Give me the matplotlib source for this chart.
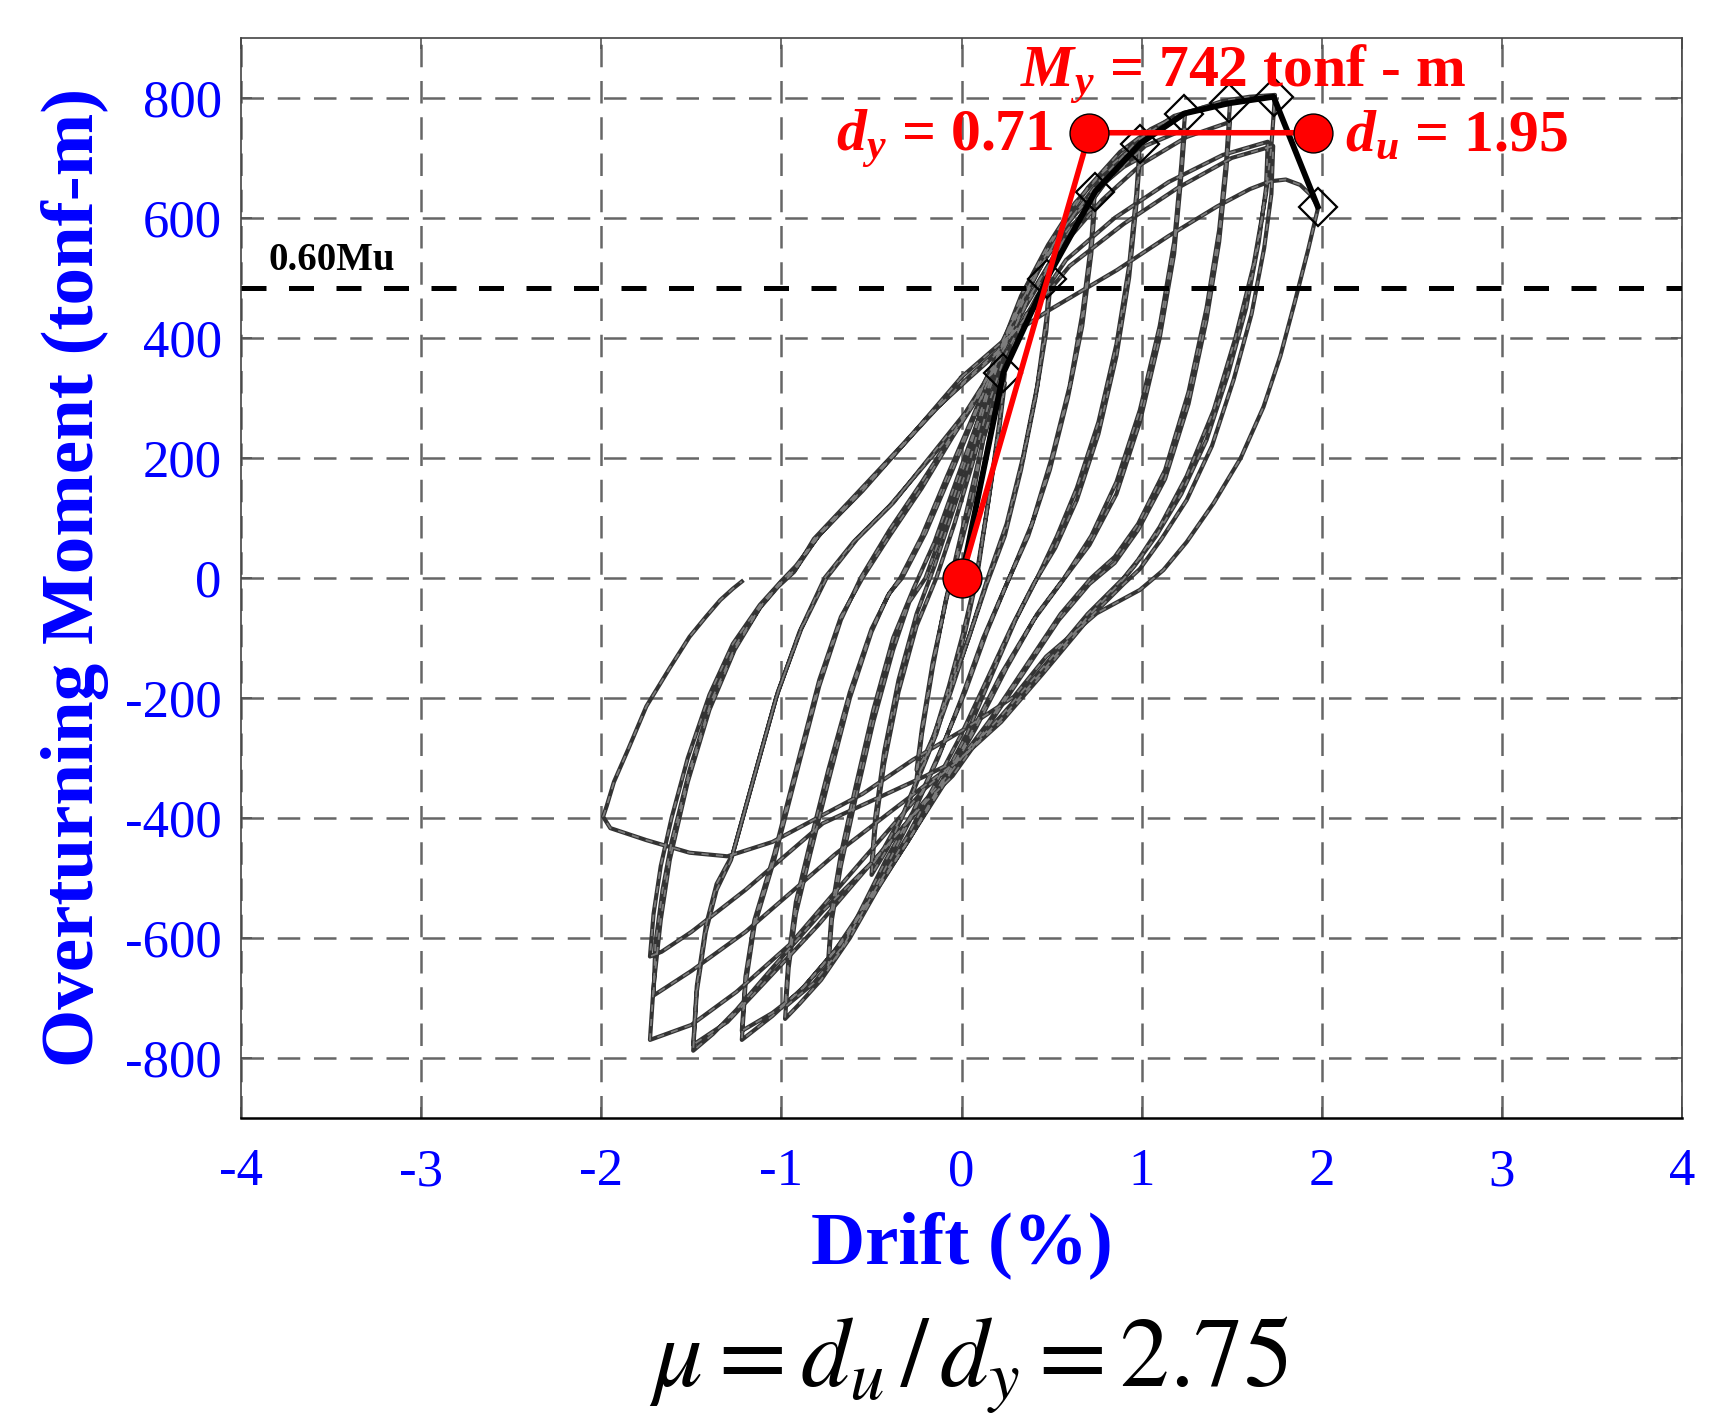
import matplotlib
matplotlib.use("Agg")
import matplotlib.pyplot as plt

# ---------------- data ----------------
x_ticks = [-4, -3, -2, -1, 0, 1, 2, 3, 4]
y_ticks = [-800, -600, -400, -200, 0, 200, 400, 600, 800]

loop_025 = [(0.00, 0), (0.08, 120), (0.16, 240), (0.24, 340), (0.21, 260), (0.15, 130), (0.085, 0),
            (0.02, -90), (-0.06, -180), (-0.14, -260), (-0.21, -310), (-0.25, -335), (-0.22, -260),
            (-0.16, -150), (-0.09, -40), (-0.02, 50), (0.05, 140), (0.12, 230), (0.19, 300), (0.24, 325),
            (0.21, 250), (0.15, 130), (0.08, 0), (0.01, -90), (-0.07, -180), (-0.15, -260), (-0.21, -300),
            (-0.25, -320), (-0.22, -250), (-0.16, -140), (-0.08, -30), (0.00, 60), (0.06, 130)]

loop_050 = [(0.06, 130), (0.12, 230), (0.22, 340), (0.33, 420), (0.42, 470), (0.49, 500),
            (0.47, 430), (0.42, 320), (0.34, 200), (0.25, 90), (0.145, 0), (0.05, -90), (-0.06, -190),
            (-0.18, -290), (-0.30, -380), (-0.41, -450), (-0.50, -495),
            (-0.48, -420), (-0.43, -310), (-0.35, -190), (-0.25, -80), (-0.14, 0), (-0.04, 90), (0.06, 190),
            (0.15, 290), (0.24, 370), (0.36, 440), (0.49, 480),
            (0.47, 410), (0.41, 300), (0.33, 180), (0.24, 70), (0.14, -10), (0.04, -100), (-0.08, -200),
            (-0.20, -300), (-0.32, -390), (-0.43, -450), (-0.50, -480),
            (-0.48, -400), (-0.43, -290), (-0.35, -170), (-0.25, -60), (-0.15, 20), (-0.05, 110), (0.05, 200)]

loop_075 = [(0.05, 200), (0.15, 310), (0.28, 420), (0.42, 510), (0.56, 580), (0.66, 620), (0.74, 645),
            (0.72, 560), (0.67, 440), (0.60, 320), (0.50, 200), (0.39, 90), (0.265, 0), (0.14, -90),
            (0.02, -190), (-0.12, -290), (-0.27, -390), (-0.42, -470), (-0.57, -560), (-0.67, -620),
            (-0.74, -650),
            (-0.72, -570), (-0.67, -480), (-0.59, -370), (-0.49, -240), (-0.38, -120), (-0.29, -40),
            (-0.20, 0), (-0.08, 100), (0.05, 220), (0.15, 320),
            (0.30, 440), (0.46, 530), (0.60, 585), (0.74, 620),
            (0.72, 540), (0.67, 420), (0.59, 300), (0.49, 180), (0.37, 70), (0.25, -10), (0.12, -100),
            (0.00, -200), (-0.13, -300), (-0.28, -400), (-0.45, -500), (-0.60, -580), (-0.74, -635),
            (-0.72, -550), (-0.67, -460), (-0.59, -350), (-0.49, -220), (-0.38, -100), (-0.27, -20),
            (-0.15, 60), (-0.02, 170), (0.10, 270)]

loop_100 = [(0.10, 270), (0.20, 370), (0.33, 470), (0.48, 555), (0.63, 625), (0.78, 675), (0.90, 705),
            (0.99, 725),
            (0.97, 640), (0.93, 520), (0.86, 390), (0.76, 260), (0.64, 150), (0.53, 70), (0.42, 0),
            (0.30, -70), (0.17, -160), (0.03, -260), (-0.12, -345), (-0.28, -430), (-0.45, -510),
            (-0.62, -600), (-0.78, -670), (-0.90, -710), (-0.98, -735),
            (-0.96, -650), (-0.92, -560), (-0.84, -460), (-0.74, -340), (-0.62, -200), (-0.50, -90),
            (-0.41, -30), (-0.34, 0), (-0.22, 70), (-0.08, 170), (0.05, 260), (0.15, 330),
            (0.30, 440), (0.45, 530), (0.60, 595), (0.76, 650), (0.90, 685), (0.99, 700),
            (0.97, 620), (0.93, 500), (0.86, 370), (0.76, 240), (0.64, 130), (0.52, 50), (0.40, -10),
            (0.28, -80), (0.14, -170), (0.00, -260), (-0.14, -340), (-0.30, -430), (-0.48, -520),
            (-0.65, -610), (-0.82, -675), (-0.98, -715),
            (-0.96, -630), (-0.92, -540), (-0.84, -440), (-0.74, -320), (-0.62, -190), (-0.50, -85),
            (-0.40, -25), (-0.33, 0), (-0.20, 75), (-0.05, 180), (0.08, 275)]

loop_125 = [(0.08, 275), (0.20, 370), (0.35, 480), (0.52, 570), (0.70, 650), (0.88, 710), (1.05, 748),
            (1.15, 763), (1.24, 772),
            (1.22, 690), (1.18, 560), (1.10, 420), (0.99, 280), (0.86, 160), (0.72, 70), (0.57, 0),
            (0.42, -60), (0.25, -150), (0.08, -250), (-0.10, -345), (-0.28, -430), (-0.47, -520),
            (-0.67, -610), (-0.87, -680), (-1.05, -730), (-1.22, -770),
            (-1.20, -680), (-1.15, -580), (-1.04, -470), (-0.92, -330), (-0.79, -180), (-0.67, -70),
            (-0.56, 0), (-0.40, 80), (-0.22, 160), (-0.05, 240), (0.10, 310), (0.20, 370),
            (0.38, 470), (0.58, 570), (0.80, 660), (1.02, 720), (1.24, 748),
            (1.22, 670), (1.18, 540), (1.10, 400), (0.99, 260), (0.86, 140), (0.71, 55), (0.56, -5),
            (0.40, -70), (0.22, -160), (0.05, -260), (-0.12, -350), (-0.30, -440), (-0.50, -530),
            (-0.70, -620), (-0.90, -690), (-1.05, -725), (-1.22, -755),
            (-1.20, -665), (-1.15, -570), (-1.04, -460), (-0.92, -320), (-0.79, -170), (-0.67, -65),
            (-0.55, 0), (-0.40, 70), (-0.22, 150), (-0.05, 235), (0.10, 305)]

loop_150 = [(0.10, 305), (0.22, 390), (0.38, 490), (0.56, 580), (0.76, 660), (0.98, 730), (1.18, 770),
            (1.35, 785), (1.49, 790),
            (1.47, 700), (1.43, 580), (1.36, 450), (1.26, 310), (1.13, 180), (0.98, 90), (0.85, 35),
            (0.72, 0), (0.55, -60), (0.35, -150), (0.15, -240), (-0.05, -320), (-0.20, -370),
            (-0.45, -460), (-0.77, -555), (-1.05, -650), (-1.25, -720), (-1.38, -760), (-1.49, -788),
            (-1.47, -690), (-1.42, -590), (-1.36, -520), (-1.28, -470), (-1.16, -340), (-1.03, -200),
            (-0.90, -90), (-0.76, 0), (-0.60, 60), (-0.40, 120), (-0.20, 190), (0.00, 260), (0.18, 350),
            (0.35, 450), (0.55, 550), (0.78, 630), (1.00, 690), (1.25, 735), (1.49, 760),
            (1.47, 680), (1.43, 560), (1.36, 430), (1.26, 290), (1.13, 165), (0.98, 80), (0.85, 25),
            (0.71, -10), (0.54, -70), (0.34, -160), (0.14, -250), (-0.05, -330), (-0.22, -380),
            (-0.50, -475), (-0.80, -580), (-1.08, -670), (-1.30, -740), (-1.49, -778),
            (-1.47, -680), (-1.42, -580), (-1.36, -510), (-1.27, -460), (-1.15, -330), (-1.02, -190),
            (-0.89, -85), (-0.75, 0), (-0.58, 65), (-0.38, 125), (-0.18, 200), (0.02, 275), (0.20, 360)]

loop_175 = [(0.20, 360), (0.38, 470), (0.58, 570), (0.80, 660), (1.02, 730), (1.25, 775), (1.45, 795),
            (1.60, 802), (1.74, 805),
            (1.72, 720), (1.69, 640), (1.62, 520), (1.52, 400), (1.40, 280), (1.25, 170), (1.10, 85),
            (0.98, 30), (0.90, 0), (0.70, -60), (0.45, -150), (0.22, -230), (0.00, -300), (-0.20, -350),
            (-0.55, -470), (-0.95, -610), (-1.25, -690), (-1.50, -745), (-1.73, -770),
            (-1.71, -680), (-1.67, -570), (-1.62, -470), (-1.52, -340), (-1.40, -220), (-1.26, -120),
            (-1.12, -50), (-1.02, -15), (-0.93, 10), (-0.82, 65), (-0.60, 135), (-0.35, 215),
            (-0.15, 280), (0.05, 335), (0.20, 375),
            (0.40, 450), (0.58, 530), (0.85, 600), (1.15, 660), (1.45, 705), (1.70, 727),
            (1.69, 650), (1.65, 560), (1.58, 450), (1.48, 340), (1.36, 230), (1.22, 140), (1.08, 70),
            (0.96, 20), (0.89, -5), (0.70, -65), (0.45, -155), (0.22, -235), (0.00, -300),
            (-0.20, -345), (-0.70, -460), (-1.20, -590), (-1.50, -655), (-1.71, -696),
            (-1.70, -610), (-1.66, -520), (-1.61, -440), (-1.51, -320), (-1.39, -205), (-1.25, -110),
            (-1.11, -45), (-1.01, -10), (-0.92, 15), (-0.80, 68), (-0.58, 138), (-0.33, 220),
            (-0.13, 285), (0.05, 338), (0.20, 378),
            (0.42, 455), (0.60, 520), (0.90, 590), (1.20, 650), (1.50, 700), (1.73, 720),
            (1.72, 640), (1.68, 550), (1.61, 440), (1.51, 330), (1.39, 220), (1.25, 130), (1.11, 65),
            (0.99, 15), (0.90, -10), (0.70, -70), (0.45, -160), (0.22, -240), (0.00, -300),
            (-0.20, -330), (-0.77, -409), (-1.20, -520), (-1.50, -590), (-1.665, -623), (-1.73, -631),
            (-1.71, -560), (-1.67, -480), (-1.61, -400), (-1.52, -300), (-1.40, -195), (-1.27, -110),
            (-1.12, -45), (-1.00, -5), (-0.92, 20), (-0.78, 75), (-0.55, 145), (-0.30, 230),
            (0.00, 335)]

loop_200 = [(0.00, 335), (0.25, 400), (0.49, 447), (0.862, 513), (1.15, 570), (1.418, 619), (1.60, 648),
            (1.712, 661), (1.80, 664), (1.88, 655), (1.94, 638), (1.98, 618),
            (1.95, 580), (1.924, 547), (1.85, 460), (1.77, 370), (1.676, 285), (1.55, 200), (1.40, 125),
            (1.25, 60), (1.12, 13), (0.99, -20), (0.75, -59), (0.47, -131), (0.29, -198), (0.00, -255),
            (-0.27, -303), (-0.55, -360), (-0.82, -403), (-1.05, -440), (-1.30, -464), (-1.51, -458),
            (-1.75, -437), (-1.95, -417), (-1.99, -398),
            (-1.97, -380), (-1.93, -340), (-1.85, -285), (-1.75, -214), (-1.62, -150), (-1.51, -98),
            (-1.42, -65), (-1.34, -37), (-1.27, -18), (-1.22, -6)]

loops = [loop_025, loop_050, loop_075, loop_100, loop_125, loop_150, loop_175, loop_200]

# backbone (envelope) and bilinear idealisation
backbone_x = [0.0, 0.232, 0.474, 0.742, 0.992, 1.236, 1.482, 1.732, 1.977]
backbone_y = [0, 342, 499, 644, 724, 774, 791, 802, 619]
bilinear_x = [0.0, 0.71, 1.95]
bilinear_y = [0, 742, 742]
Mu = 805
ratio_line = 0.60 * Mu

# ---------------- fonts ----------------
plt.rcParams['font.family'] = ['Liberation Serif', 'DejaVu Serif']
plt.rcParams['mathtext.fontset'] = 'custom'
plt.rcParams['mathtext.rm'] = 'Liberation Serif'
plt.rcParams['mathtext.it'] = 'Liberation Serif:italic'
plt.rcParams['mathtext.bf'] = 'Liberation Serif:bold'
try:
    plt.rcParams['mathtext.bfit'] = 'Liberation Serif:bold:italic'
    BF = r'\mathbfit'
except KeyError:
    BF = r'\mathbf'

BLUE = '#0000FF'
RED = '#FF0000'

fig = plt.figure(figsize=(17.11, 14.21), dpi=100)
ax = fig.add_axes([0.1409, 0.2133, 0.8422, 0.760])

# hysteresis loops
for lp in loops:
    lx = [p[0] for p in lp]
    ly = [p[1] for p in lp]
    ax.plot(lx, ly, color='#333333', lw=3.0, solid_joinstyle='round', zorder=3)
    ax.plot(lx, ly, color='#7c7c7c', lw=1.3, ls=(0, (4, 4)), zorder=3.1)

# 0.60Mu line
ax.axhline(ratio_line, color='black', lw=3.6, ls=(0, (5, 4.5)), zorder=4)
ax.text(-3.85, 513, '0.60Mu', fontsize=28, fontweight='bold', color='black',
        ha='left', va='baseline', zorder=6)

# backbone
ax.plot(backbone_x, backbone_y, color='black', lw=4.2, zorder=5)
ax.plot(backbone_x[1:], backbone_y[1:], ls='none', marker='D', ms=19, mfc='none',
        mec='black', mew=1.6, zorder=5.5)

# bilinear
ax.plot(bilinear_x, bilinear_y, color=RED, lw=4.0, zorder=6,
        marker='o', ms=28, mfc=RED, mec='black', mew=1.0)

ax.text(0.326, 818, r'$' + BF + r'{M}_{' + BF + r'{y}}$' + ' = 742 tonf - m', fontsize=43,
        fontweight='bold', color=RED, ha='left', va='baseline', zorder=7)
ax.text(0.51, 712, r'$' + BF + r'{d}_{' + BF + r'{y}}$' + ' = 0.71', fontsize=43,
        fontweight='bold', color=RED, ha='right', va='baseline', zorder=7)
ax.text(2.13, 712, r'$' + BF + r'{d}_{' + BF + r'{u}}$' + ' = 1.95', fontsize=43,
        fontweight='bold', color=RED, ha='left', va='baseline', zorder=7)

# axes styling
ax.set_xlim(-4, 4)
ax.set_ylim(-900, 900)
ax.set_xticks(x_ticks)
ax.set_yticks(y_ticks)
ax.set_xticklabels([str(v) for v in x_ticks])
ax.set_yticklabels([str(v) for v in y_ticks])
ax.tick_params(axis='both', which='both', direction='in', length=8, width=1.2, color='#555555',
               labelsize=38, labelcolor=BLUE, top=True, right=True)
ax.tick_params(axis='x', pad=22)
ax.tick_params(axis='y', pad=14)
ax.grid(True, color='#666666', lw=1.8, ls=(0, (9, 5.5)), zorder=1)
ax.set_axisbelow(True)
for s in ax.spines.values():
    s.set_color('#444444')
    s.set_linewidth(1.2)
ax.spines['bottom'].set_color('black')
ax.spines['bottom'].set_linewidth(1.8)

ax.set_ylabel('Overturning Moment (tonf-m)', fontsize=54, fontweight='bold', color=BLUE)
ax.yaxis.set_label_coords(-0.092, 0.5)
ax.set_xlabel('Drift (%)', fontsize=54, fontweight='bold', color=BLUE)
ax.xaxis.set_label_coords(0.5, -0.086)

fig.text(0.566, 0.024, r'$\mu = d_u\,/\,d_y = 2.75$', fontsize=71, math_fontfamily='stix',
         ha='center', va='baseline', color='black')

fig.savefig('out.png', dpi=100)
